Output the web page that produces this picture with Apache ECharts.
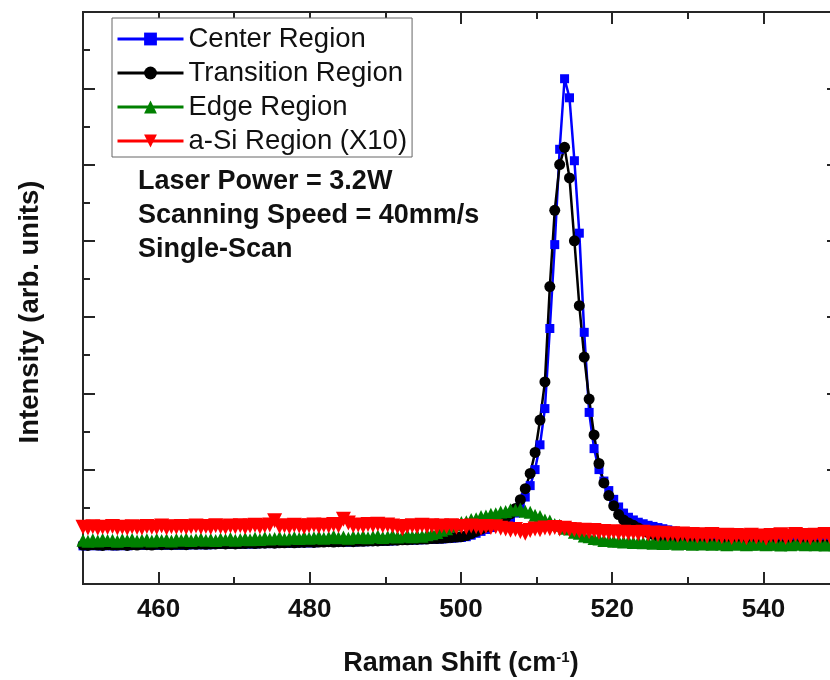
<!DOCTYPE html>
<html>
<head>
<meta charset="utf-8">
<title>Raman spectra</title>
<script src="https://cdn.jsdelivr.net/npm/echarts@6/dist/echarts.min.js"></script>
<style>
  html, body { margin: 0; padding: 0; background: #fff; }
  #main { width: 830px; height: 680px; }
</style>
</head>
<body>
<div id="main"></div>
<script>
// Raman shift (cm-1), shared by all spectra
var shift = [
  450.00, 450.65, 451.30, 451.95, 452.60, 453.25, 453.90, 454.55, 455.20, 455.85,
  456.50, 457.15, 457.80, 458.45, 459.10, 459.75, 460.40, 461.05, 461.70, 462.35,
  463.00, 463.65, 464.30, 464.95, 465.60, 466.25, 466.90, 467.55, 468.20, 468.85,
  469.50, 470.15, 470.80, 471.45, 472.10, 472.75, 473.40, 474.05, 474.70, 475.35,
  476.00, 476.65, 477.30, 477.95, 478.60, 479.25, 479.90, 480.55, 481.20, 481.85,
  482.50, 483.15, 483.80, 484.45, 485.10, 485.75, 486.40, 487.05, 487.70, 488.35,
  489.00, 489.65, 490.30, 490.95, 491.60, 492.25, 492.90, 493.55, 494.20, 494.85,
  495.50, 496.15, 496.80, 497.45, 498.10, 498.75, 499.40, 500.05, 500.70, 501.35,
  502.00, 502.65, 503.30, 503.95, 504.60, 505.25, 505.90, 506.55, 507.20, 507.85,
  508.50, 509.15, 509.80, 510.45, 511.10, 511.75, 512.40, 513.05, 513.70, 514.35,
  515.00, 515.65, 516.30, 516.95, 517.60, 518.25, 518.90, 519.55, 520.20, 520.85,
  521.50, 522.15, 522.80, 523.45, 524.10, 524.75, 525.40, 526.05, 526.70, 527.35,
  528.00, 528.65, 529.30, 529.95, 530.60, 531.25, 531.90, 532.55, 533.20, 533.85,
  534.50, 535.15, 535.80, 536.45, 537.10, 537.75, 538.40, 539.05, 539.70, 540.35,
  541.00, 541.65, 542.30, 542.95, 543.60, 544.25, 544.90, 545.55, 546.20, 546.85,
  547.50, 548.15, 548.80, 549.45
];

// intensities (arb. units)
var center = [
  1.00, 1.00, 1.01, 1.00, 1.00, 1.01, 1.00, 1.00, 1.01, 1.00,
  1.01, 1.01, 1.02, 1.01, 1.01, 1.02, 1.02, 1.02, 1.02, 1.02,
  1.02, 1.02, 1.03, 1.03, 1.03, 1.03, 1.03, 1.04, 1.04, 1.04,
  1.04, 1.04, 1.05, 1.05, 1.05, 1.05, 1.06, 1.06, 1.06, 1.06,
  1.07, 1.07, 1.07, 1.07, 1.08, 1.08, 1.08, 1.08, 1.09, 1.09,
  1.09, 1.09, 1.10, 1.10, 1.10, 1.10, 1.11, 1.11, 1.11, 1.12,
  1.12, 1.12, 1.13, 1.13, 1.14, 1.14, 1.15, 1.15, 1.16, 1.16,
  1.17, 1.17, 1.18, 1.18, 1.19, 1.20, 1.21, 1.22, 1.24, 1.28,
  1.33, 1.38, 1.43, 1.48, 1.53, 1.58, 1.64, 1.72, 1.86, 2.04,
  2.28, 2.58, 3.00, 3.65, 4.60, 6.70, 8.90, 11.40, 13.25, 12.75,
  11.10, 9.20, 6.60, 4.50, 3.55, 3.00, 2.70, 2.45, 2.22, 2.02,
  1.86, 1.75, 1.68, 1.62, 1.58, 1.54, 1.51, 1.48, 1.45, 1.42,
  1.39, 1.36, 1.33, 1.30, 1.28, 1.26, 1.25, 1.24, 1.23, 1.22,
  1.21, 1.21, 1.20, 1.20, 1.19, 1.19, 1.18, 1.18, 1.18, 1.17,
  1.17, 1.17, 1.16, 1.16, 1.16, 1.16, 1.15, 1.15, 1.15, 1.15,
  1.14, 1.14, 1.14, 1.14
];

var transition = [
  1.02, 1.01, 1.03, 1.02, 1.01, 1.03, 1.02, 1.02, 1.03, 1.01,
  1.03, 1.02, 1.04, 1.03, 1.02, 1.04, 1.03, 1.04, 1.03, 1.04,
  1.04, 1.03, 1.05, 1.04, 1.05, 1.04, 1.05, 1.05, 1.06, 1.05,
  1.06, 1.05, 1.06, 1.06, 1.07, 1.06, 1.07, 1.07, 1.08, 1.07,
  1.08, 1.08, 1.09, 1.08, 1.09, 1.09, 1.10, 1.09, 1.10, 1.10,
  1.11, 1.10, 1.11, 1.11, 1.12, 1.11, 1.12, 1.12, 1.13, 1.13,
  1.13, 1.14, 1.14, 1.15, 1.15, 1.16, 1.16, 1.17, 1.17, 1.18,
  1.18, 1.19, 1.19, 1.20, 1.21, 1.22, 1.23, 1.24, 1.27, 1.32,
  1.38, 1.44, 1.50, 1.55, 1.60, 1.66, 1.74, 1.84, 1.98, 2.21,
  2.50, 2.90, 3.45, 4.30, 5.30, 7.80, 9.80, 11.00, 11.45, 10.65,
  9.00, 7.30, 5.95, 4.85, 3.91, 3.16, 2.65, 2.32, 2.05, 1.82,
  1.68, 1.60, 1.54, 1.47, 1.41, 1.35, 1.30, 1.25, 1.21, 1.17,
  1.14, 1.12, 1.10, 1.09, 1.08, 1.07, 1.07, 1.06, 1.06, 1.05,
  1.06, 1.05, 1.05, 1.04, 1.05, 1.04, 1.04, 1.05, 1.04, 1.03,
  1.04, 1.04, 1.03, 1.04, 1.03, 1.03, 1.04, 1.03, 1.03, 1.02,
  1.03, 1.03, 1.02, 1.03
];

var edge = [
  1.15, 1.12, 1.16, 1.13, 1.17, 1.14, 1.15, 1.12, 1.16, 1.14,
  1.17, 1.13, 1.15, 1.16, 1.13, 1.17, 1.14, 1.16, 1.13, 1.17,
  1.15, 1.18, 1.14, 1.16, 1.18, 1.15, 1.17, 1.14, 1.18, 1.16,
  1.19, 1.15, 1.17, 1.19, 1.16, 1.20, 1.17, 1.21, 1.18, 1.19,
  1.22, 1.18, 1.20, 1.22, 1.19, 1.23, 1.20, 1.21, 1.24, 1.20,
  1.22, 1.25, 1.21, 1.23, 1.20, 1.24, 1.22, 1.25, 1.21, 1.24,
  1.26, 1.22, 1.24, 1.27, 1.23, 1.25, 1.28, 1.24, 1.27, 1.25,
  1.29, 1.32, 1.35, 1.41, 1.45, 1.52, 1.55, 1.61, 1.63, 1.69,
  1.71, 1.77, 1.78, 1.83, 1.84, 1.89, 1.90, 1.95, 1.94, 1.97,
  1.91, 1.88, 1.80, 1.77, 1.68, 1.65, 1.56, 1.54, 1.46, 1.44,
  1.36, 1.33, 1.26, 1.24, 1.19, 1.18, 1.14, 1.15, 1.12, 1.13,
  1.10, 1.12, 1.09, 1.11, 1.08, 1.10, 1.07, 1.09, 1.06, 1.08,
  1.07, 1.05, 1.08, 1.06, 1.04, 1.07, 1.05, 1.06, 1.04, 1.07,
  1.05, 1.03, 1.06, 1.04, 1.06, 1.03, 1.05, 1.04, 1.06, 1.03,
  1.05, 1.04, 1.02, 1.05, 1.03, 1.06, 1.04, 1.03, 1.05, 1.03,
  1.04, 1.02, 1.05, 1.03
];

var aSi = [
  1.49, 1.47, 1.50, 1.46, 1.49, 1.48, 1.51, 1.47, 1.49, 1.46,
  1.50, 1.48, 1.47, 1.51, 1.49, 1.48, 1.52, 1.47, 1.50, 1.49,
  1.51, 1.48, 1.50, 1.52, 1.49, 1.51, 1.48, 1.53, 1.50, 1.49,
  1.52, 1.50, 1.53, 1.49, 1.52, 1.54, 1.50, 1.53, 1.55, 1.66,
  1.51, 1.53, 1.50, 1.54, 1.52, 1.49, 1.53, 1.55, 1.51, 1.54,
  1.52, 1.56, 1.53, 1.70, 1.60, 1.53, 1.55, 1.52, 1.56, 1.54,
  1.57, 1.53, 1.55, 1.52, 1.50, 1.45, 1.51, 1.53, 1.50, 1.54,
  1.51, 1.53, 1.49, 1.52, 1.50, 1.53, 1.49, 1.51, 1.48, 1.52,
  1.50, 1.47, 1.51, 1.48, 1.50, 1.46, 1.44, 1.41, 1.43, 1.38,
  1.33, 1.40, 1.44, 1.42, 1.47, 1.45, 1.48, 1.44, 1.46, 1.43,
  1.42, 1.39, 1.41, 1.37, 1.40, 1.36, 1.38, 1.35, 1.37, 1.34,
  1.36, 1.33, 1.35, 1.32, 1.36, 1.31, 1.34, 1.30, 1.33, 1.29,
  1.32, 1.28, 1.31, 1.27, 1.30, 1.26, 1.29, 1.25, 1.30, 1.27,
  1.24, 1.28, 1.22, 1.27, 1.25, 1.21, 1.28, 1.23, 1.26, 1.20,
  1.27, 1.24, 1.29, 1.22, 1.26, 1.30, 1.23, 1.27, 1.21, 1.28,
  1.25, 1.30, 1.24, 1.27
];

var majorX = [460, 480, 500, 520, 540];
var minorX = [470, 490, 510, 530];
var majorY = [1, 3, 5, 7, 9, 11, 13];
var minorY = [2, 4, 6, 8, 10, 12, 14];

var notes = ['Laser Power = 3.2W', 'Scanning Speed = 40mm/s', 'Single-Scan'];

var FONT = "'Liberation Sans', Arial, sans-serif";
var AXIS = '#262626';

function pairs(ys) {
  return shift.map(function (x, i) { return [x, ys[i]]; });
}

function xAxisDef(pos, ticks, len, withLabels) {
  return {
    type: 'value', position: pos, min: 450, max: 550,
    axisLine: { show: true, onZero: false, lineStyle: { color: AXIS, width: 2 } },
    axisTick: { show: true, inside: true, length: len, customValues: ticks,
                lineStyle: { color: AXIS, width: 2 } },
    axisLabel: withLabels ? {
      show: true, customValues: majorX, margin: 13,
      fontSize: 26, fontWeight: 'bold', fontFamily: FONT, color: '#111'
    } : { show: false },
    splitLine: { show: false }
  };
}

function yAxisDef(pos, ticks, len) {
  return {
    type: 'value', position: pos, min: 0, max: 15,
    axisLine: { show: true, onZero: false, lineStyle: { color: AXIS, width: 2 } },
    axisTick: { show: true, inside: true, length: len, customValues: ticks,
                lineStyle: { color: AXIS, width: 2 } },
    axisLabel: { show: false },
    splitLine: { show: false }
  };
}

function spectrum(name, ys, color, symbol, size, rotate) {
  return {
    name: name, type: 'line', data: pairs(ys),
    symbol: symbol, symbolSize: size, symbolRotate: rotate || 0,
    showSymbol: true, showAllSymbol: true,
    lineStyle: { color: color, width: 2.5 },
    itemStyle: { color: color },
    emphasis: { disabled: true }
  };
}

var xBottom = xAxisDef('bottom', majorX, 12, true);
xBottom.name = 'Raman Shift (cm{sup|-1})';
xBottom.nameLocation = 'middle';
xBottom.nameGap = 66;
xBottom.nameTextStyle = {
  fontSize: 27, fontWeight: 'bold', fontFamily: FONT, color: '#111',
  rich: { sup: { fontSize: 15, fontWeight: 'bold', fontFamily: FONT, color: '#111',
                 verticalAlign: 'top', lineHeight: 16 } }
};

var yLeft = yAxisDef('left', majorY, 12);
yLeft.name = 'Intensity (arb. units)';
yLeft.nameLocation = 'middle';
yLeft.nameRotate = 90;
yLeft.nameGap = 39;
yLeft.nameTextStyle = { fontSize: 27.5, fontWeight: 'bold', fontFamily: FONT, color: '#111',
                        padding: [0, 28, 0, 0] };

var chart = echarts.init(document.getElementById('main'), null, { renderer: 'canvas' });
chart.setOption({
  animation: false,
  backgroundColor: '#fff',
  grid: { left: 83, top: 12, width: 756, bottom: 96, containLabel: false, outerBoundsMode: 'none' },
  xAxis: [
    xBottom,
    xAxisDef('bottom', minorX, 7, false),
    xAxisDef('top', majorX, 12, false),
    xAxisDef('top', minorX, 7, false)
  ],
  yAxis: [
    yLeft,
    yAxisDef('left', minorY, 7),
    yAxisDef('right', majorY, 12),
    yAxisDef('right', minorY, 7)
  ],
  legend: {
    data: ['Center Region', 'Transition Region', 'Edge Region', 'a-Si Region (X10)'],
    orient: 'vertical', left: 112, top: 18,
    itemWidth: 66, itemHeight: 16, itemGap: 6,
    padding: [7, 5, 2, 4],
    borderColor: '#666', borderWidth: 1, borderRadius: 0,
    backgroundColor: '#fff',
    lineStyle: { width: 3 },
    textStyle: { fontSize: 27.5, fontFamily: FONT, color: '#111' },
    selectedMode: false
  },
  graphic: notes.map(function (t, i) {
    return {
      type: 'text', left: 138, top: 168 + i * 34,
      style: { text: t, font: 'bold 27px ' + FONT, fill: '#111' }
    };
  }),
  series: [
    spectrum('Center Region', center, '#0000ff', 'rect', 9),
    spectrum('Transition Region', transition, '#000000', 'circle', 11),
    spectrum('Edge Region', edge, '#008000', 'triangle', 13),
    spectrum('a-Si Region (X10)', aSi, '#ff0000', 'triangle', 15, 180)
  ]
});
</script>
</body>
</html>
